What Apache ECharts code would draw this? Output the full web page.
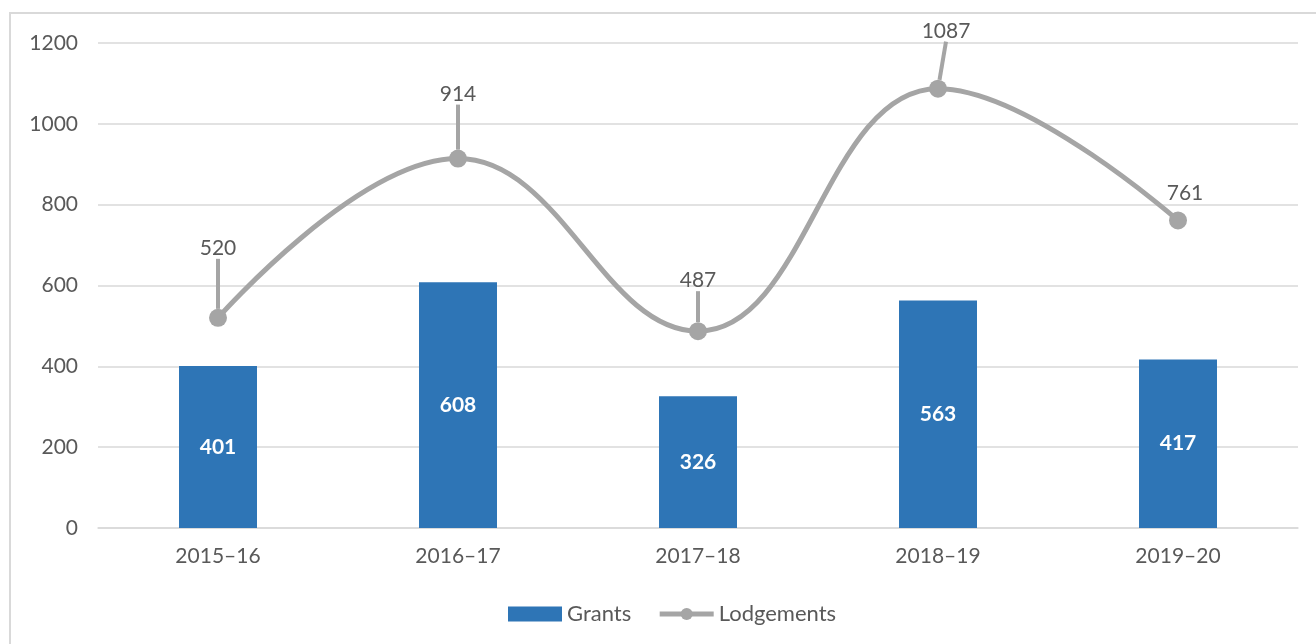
<!DOCTYPE html>
<html>
<head>
<meta charset="utf-8">
<style>
  html, body { margin: 0; padding: 0; background: #ffffff; }
  #chart { width: 1316px; height: 644px; }
</style>
<script src="https://cdn.jsdelivr.net/npm/echarts@6/dist/echarts.min.js"></script>
</head>
<body>
<div id="chart"></div>
<script>
// Financial years on the category axis
const years = ['2015–16', '2016–17', '2017–18', '2018–19', '2019–20'];
// Number of grants per year (bars)
const grants = [401, 608, 326, 563, 417];
// Number of lodgements per year (smoothed line)
const lodgements = [520, 914, 487, 1087, 761];
// Value-axis ticks
const yTicks = [0, 200, 400, 600, 800, 1000, 1200];
// Extra shift (px) of each lodgement label away from its point, and whether a leader line is drawn
const labelShiftY = [-42, -37, -23, -30, 0];
const labelShiftX = [0, 0, 0, 8, 7];
const leader = [true, true, true, true, false];

const FONT = 'Lato, "Open Sans", sans-serif';
const TEXT = '#595959';
const GREY = '#A5A5A5';
const BLUE = '#2E75B6';
const FS = 21;

const chart = echarts.init(document.getElementById('chart'), null, { renderer: 'canvas' });

chart.setOption({
  animation: false,
  textStyle: { fontFamily: FONT },
  graphic: [{
    type: 'rect',
    shape: { x: 10, y: 13, width: 1330, height: 660 },
    style: { fill: 'none', stroke: '#d9d9d9', lineWidth: 2 },
    silent: true,
    z: -1
  }],
  grid: { left: 98, right: 18, top: 43, bottom: 116 },
  legend: {
    bottom: 14,
    left: 503,
    itemGap: 26,
    itemWidth: 54,
    itemHeight: 15,
    textStyle: { color: TEXT, fontSize: 22, fontFamily: FONT },
    data: [
      { name: 'Grants', icon: 'rect' },
      { name: 'Lodgements', lineStyle: { width: 5 }, itemStyle: { color: GREY } }
    ]
  },
  xAxis: {
    type: 'category',
    data: years,
    axisLine: { show: true, lineStyle: { color: '#d9d9d9', width: 1.5 } },
    axisTick: { show: false },
    axisLabel: { color: TEXT, fontSize: FS, margin: 18, fontFamily: FONT }
  },
  yAxis: {
    type: 'value',
    min: yTicks[0],
    max: yTicks[yTicks.length - 1],
    interval: yTicks[1] - yTicks[0],
    axisLine: { show: false },
    axisTick: { show: false },
    splitLine: { lineStyle: { color: '#d9d9d9', width: 1.5 } },
    axisLabel: {
      color: TEXT, fontSize: FS, margin: 20, fontFamily: FONT,
      formatter: function (v) { return String(v); }
    }
  },
  series: [
    {
      name: 'Grants',
      type: 'bar',
      data: grants,
      barWidth: 78,
      itemStyle: { color: BLUE },
      label: {
        show: true,
        position: 'inside',
        color: '#ffffff',
        fontWeight: 'bold',
        fontSize: FS,
        fontFamily: FONT
      }
    },
    {
      name: 'Lodgements',
      type: 'line',
      data: lodgements.map(function (v, i) {
        return { value: v, labelLine: { show: leader[i] } };
      }),
      smooth: 0.42,
      symbol: 'circle',
      symbolSize: 18,
      z: 3,
      lineStyle: { color: GREY, width: 5 },
      itemStyle: { color: GREY },
      label: {
        show: true,
        position: 'top',
        distance: 0,
        padding: [0, 0, 8, 0],
        color: TEXT,
        fontSize: FS,
        fontFamily: FONT
      },
      labelLayout: function (p) {
        return { dx: labelShiftX[p.dataIndex], dy: labelShiftY[p.dataIndex] };
      },
      labelLine: {
        show: true,
        lineStyle: { color: GREY, width: 4 }
      }
    }
  ]
});
</script>
</body>
</html>
